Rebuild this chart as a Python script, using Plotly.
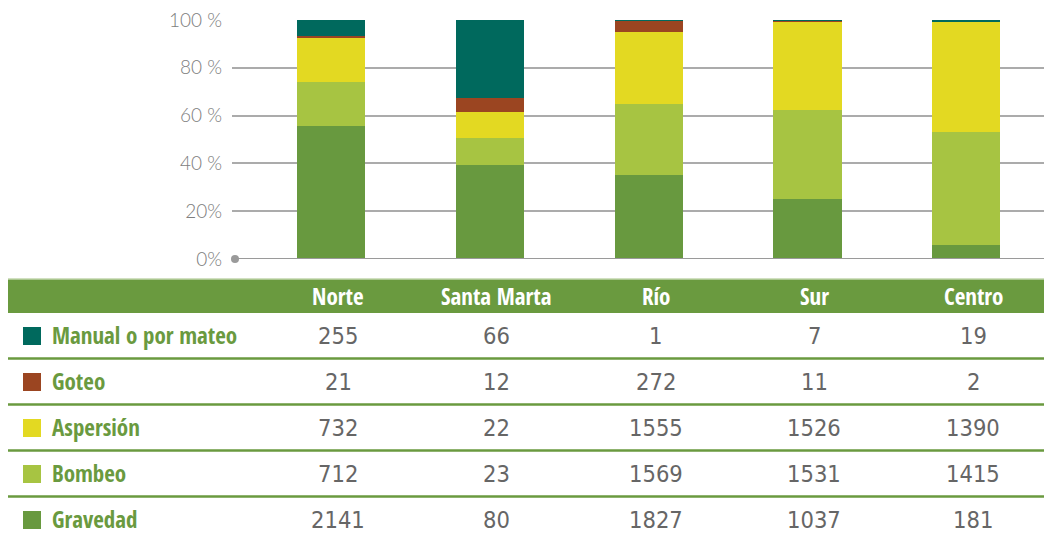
import plotly.graph_objects as go

categories = ["Norte", "Santa Marta", "Río", "Sur", "Centro"]
series_names = ["Manual o por mateo", "Goteo", "Aspersión", "Bombeo", "Gravedad"]
manual = [255, 66, 1, 7, 19]
goteo = [21, 12, 272, 11, 2]
aspersion = [732, 22, 1555, 1526, 1390]
bombeo = [712, 23, 1569, 1531, 1415]
gravedad = [2141, 80, 1827, 1037, 181]
series_values = [manual, goteo, aspersion, bombeo, gravedad]
series_colors = ["#00695d", "#9b4521", "#e3d922", "#a7c442", "#68993f"]
y_tickvals = [0, 20, 40, 60, 80, 100]
y_ticktext = ["0%", "20%", "40 %", "60 %", "80 %", "100 %"]

W, H = 1044, 537
def px(x):
    return x / W
def py(y):
    return 1 - y / H

fig = go.Figure()
# stack from bottom: Gravedad first
for name, vals, col in reversed(list(zip(series_names, series_values, series_colors))):
    fig.add_trace(go.Bar(x=categories, y=vals, name=name, marker=dict(color=col, line=dict(width=0)),
                         hoverinfo="skip"))

BOLD_FONT = "Open Sans Condensed, DejaVu Sans Condensed, Roboto, Arial"
NUM_FONT = "DejaVu Sans Condensed, Roboto, Arial"
GREEN = "#6a9a3f"

shapes = []
annotations = []
# axis line and dot
shapes.append(dict(type="line", xref="paper", yref="y", x0=px(235), x1=1, y0=0, y1=0,
                   line=dict(color="#9a9a9a", width=2.2), layer="above"))
shapes.append(dict(type="circle", xref="paper", yref="paper", x0=px(231), x1=px(239),
                   y0=py(263), y1=py(255), fillcolor="#9a9a9a", line=dict(width=0)))
# header band
shapes.append(dict(type="rect", xref="paper", yref="paper", x0=px(8), x1=1, y0=py(313), y1=py(279),
                   fillcolor=GREEN, line=dict(width=0)))
shapes.append(dict(type="line", xref="paper", yref="paper", x0=px(8), x1=1, y0=py(279), y1=py(279),
                   line=dict(color="#c2d6ad", width=1.5)))
for c in categories:
    annotations.append(dict(x=c, xref="x", y=py(296), yref="paper", yanchor="middle", text=c,
                            showarrow=False, xshift=7,
                            font=dict(family=BOLD_FONT, size=23, color="white", weight="bold")))
row_centers = [336, 382, 428, 474, 520]
for i, (name, vals, col) in enumerate(zip(series_names, series_values, series_colors)):
    yc = row_centers[i]
    shapes.append(dict(type="rect", xref="paper", yref="paper", x0=px(23), x1=px(41),
                       y0=py(yc + 9), y1=py(yc - 9), fillcolor=col, line=dict(width=0)))
    annotations.append(dict(x=px(50), xref="paper", y=py(yc - 1), yref="paper", yanchor="middle",
                            text=name, showarrow=False, xanchor="left",
                            font=dict(family=BOLD_FONT, size=23, color=GREEN, weight="bold")))
    for c, v in zip(categories, vals):
        annotations.append(dict(x=c, xref="x", y=py(yc), yref="paper", yanchor="middle", text=str(v),
                                showarrow=False, xshift=7,
                                font=dict(family=NUM_FONT, size=23.5, color="#666666")))
    if i < len(series_names) - 1:
        ysep = yc + 22.5
        shapes.append(dict(type="line", xref="paper", yref="paper", x0=px(8), x1=1, y0=py(ysep), y1=py(ysep),
                           line=dict(color=GREEN, width=2.5)))

fig.update_layout(
    width=W, height=H,
    margin=dict(l=0, r=0, t=0, b=0, pad=0, autoexpand=False),
    paper_bgcolor="white", plot_bgcolor="white",
    barmode="stack", barnorm="percent", bargap=0.57,
    showlegend=False, hovermode=False,
    xaxis=dict(domain=[px(232), 1], range=[-0.624, 4.49], showticklabels=False, showgrid=False,
               zeroline=False, showline=False, ticks="", automargin=False),
    yaxis=dict(domain=[py(259), py(20)], range=[0, 100], tickvals=y_tickvals, ticktext=y_ticktext,
               showgrid=True, gridcolor="#ababab", gridwidth=1.5, zeroline=False, showline=False,
               ticks="", ticklabelstandoff=9, automargin=False,
               tickfont=dict(family="Lato", size=19, color="#7d7d7d", weight=300)),
    shapes=shapes, annotations=annotations,
)
fig.write_html("out.html", config={"displayModeBar": False},
               post_script="document.body.style.margin='0';")
